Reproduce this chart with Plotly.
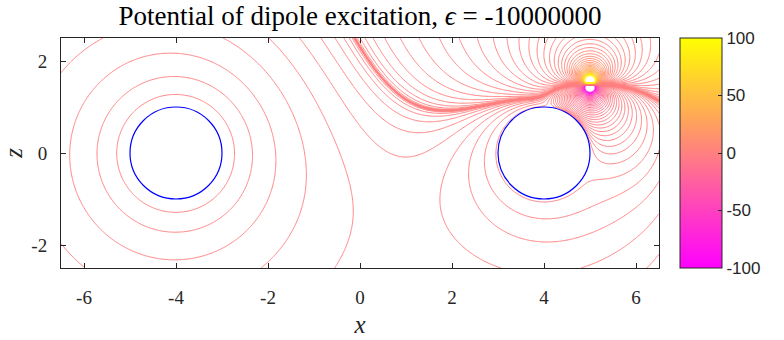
import numpy as np
import plotly.graph_objects as go

# ---- data ----
sphere_x = [-4.0, 4.0]          # sphere centres (x)
sphere_z = [0.0, 0.0]           # sphere centres (z)
sphere_radius = 1.0
sphere_charge = [-0.60, 0.60]   # net charges carried by the spheres
dipole_pos = [5.0, 1.5]         # dipole position (x, z)
dipole_moment = 3.3             # dipole strength (along +z)
x_range = [-6.5, 6.5]
z_range = [-2.5, 2.5]
x_ticks = [-6, -4, -2, 0, 2, 4, 6]
z_ticks = [-2, 0, 2]
cbar_ticks = [-100, -50, 0, 50, 100]
clim = [-100, 100]
level_steps = 48                # levels = clim[1] * (k/level_steps)**level_power
level_power = 5

# ---- potential via image charges (conducting spheres with net charge) ----
a = sphere_radius
d = 0.002
qd = dipole_moment / (2 * d)
src = [(qd, dipole_pos[0], dipole_pos[1] + d, None),
       (-qd, dipole_pos[0], dipole_pos[1] - d, None)]
for s in range(2):
    src.append((sphere_charge[s], sphere_x[s], sphere_z[s], s))
allc = list(src)
gen = src
for it in range(7):
    new = []
    for (q, x, z, o) in gen:
        for s in range(2):
            if s == o:
                continue
            dx, dz = x - sphere_x[s], z - sphere_z[s]
            D = np.hypot(dx, dz)
            qi = -q * a / D
            k = (a / D) ** 2
            new.append((qi, sphere_x[s] + k * dx, sphere_z[s] + k * dz, s))
            new.append((-qi, sphere_x[s], sphere_z[s], s))
    allc += new
    gen = new

xs = np.linspace(x_range[0], x_range[1], 651)
zs = np.linspace(z_range[0], z_range[1], 251)
X, Z = np.meshgrid(xs, zs)


def potential(X, Z):
    phi = np.zeros_like(X, dtype=float)
    for (q, x, z, o) in allc:
        r = np.sqrt((X - x) ** 2 + (Z - z) ** 2)
        phi += q / np.maximum(r, 1e-4)
    return phi


phi = potential(X, Z)
for s in range(2):
    inside = (X - sphere_x[s]) ** 2 + (Z - sphere_z[s]) ** 2 < a ** 2
    ps = potential(np.array([sphere_x[s] + a]), np.array([sphere_z[s]]))[0]
    phi[inside] = ps

# transform so that uniform contour steps give levels clim*(k/N)**power
psi = np.sign(phi) * (np.abs(phi) / clim[1]) ** (1.0 / level_power)
psi = np.clip(psi, -1.05, 1.05)


def spring(t):
    t = min(max(t, 0.0), 1.0)
    return "rgb(255,%d,%d)" % (round(255 * t), round(255 * (1 - t)))


cs = []
for u in np.linspace(0, 1, 801):
    p_ = -1 + 2 * u
    val = clim[1] * np.sign(p_) * abs(p_) ** level_power
    cs.append([float(u), spring((val - clim[0]) / (clim[1] - clim[0]))])

spring_scale = [[float(u), spring(u)] for u in np.linspace(0, 1, 21)]

fig = go.Figure()
fig.add_trace(go.Contour(
    x=xs, y=zs, z=psi,
    zmin=-1, zmax=1, zauto=False,
    colorscale=cs, showscale=False,
    contours=dict(coloring="lines", start=-1, end=1 + 1e-9, size=1.0 / level_steps),
    line=dict(width=1.0),
    hoverinfo="skip",
))

fig.add_trace(go.Scatter(
    x=[None], y=[None], mode="markers",
    marker=dict(color=[0], cmin=clim[0], cmax=clim[1], colorscale=spring_scale,
                showscale=True,
                colorbar=dict(x=(680 - 61) / 598, xanchor="left",
                              y=0.5, yanchor="middle",
                              thickness=42, thicknessmode="pixels",
                              len=1, lenmode="fraction", xpad=0, ypad=0,
                              outlinewidth=1, outlinecolor="#262626",
                              tickvals=cbar_ticks,
                              ticktext=[str(v) for v in cbar_ticks],
                              ticks="inside", ticklen=4, tickcolor="#262626",
                              tickfont=dict(family="Liberation Sans", size=17,
                                            color="#262626"))),
    hoverinfo="skip", showlegend=False,
))

for s in range(2):
    fig.add_shape(type="circle", xref="x", yref="y",
                  x0=sphere_x[s] - a, x1=sphere_x[s] + a,
                  y0=sphere_z[s] - a, y1=sphere_z[s] + a,
                  line=dict(color="rgb(0,0,255)", width=1.2))

serif = "Liberation Serif"
axis_common = dict(showline=True, mirror="ticks", linecolor="#262626", linewidth=1,
                   ticks="inside", ticklen=5, tickcolor="#262626",
                   showgrid=False, zeroline=False, automargin=False,
                   tickfont=dict(family=serif, size=19, color="#262626"))
fig.update_layout(
    width=784, height=340,
    margin=dict(l=61, r=125, t=38, b=72),
    paper_bgcolor="white", plot_bgcolor="white",
    showlegend=False,
    title=dict(text="Potential of dipole excitation, <i>ϵ</i> = -10000000",
               x=360 / 784, xanchor="center", y=1 - 16 / 340, yanchor="middle",
               font=dict(family=serif, size=27, color="black")),
    xaxis=dict(range=x_range, tickvals=x_ticks, ticktext=[str(v) for v in x_ticks],
               ticklabelstandoff=12,
               title=dict(text="<i>x</i>", font=dict(family=serif, size=25, color="#262626"),
                          standoff=8),
               **axis_common),
    yaxis=dict(range=z_range, tickvals=z_ticks, ticktext=[str(v) for v in z_ticks],
               ticklabelstandoff=9,
               title=dict(text="<i>z</i>", font=dict(family=serif, size=25, color="#262626"),
                          standoff=12),
               **axis_common),
)
fig.write_html("out.html")
